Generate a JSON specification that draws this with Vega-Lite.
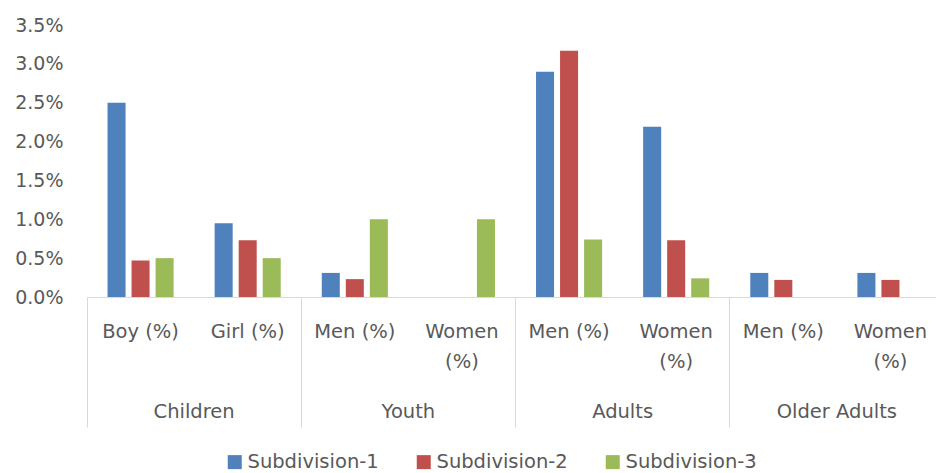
{
  "$schema": "https://vega.github.io/schema/vega-lite/v6.json",
  "width": 849,
  "height": 272,
  "autosize": {"type": "none"},
  "padding": {"left": 87, "top": 25, "right": 0, "bottom": 176},
  "config": {
    "view": {"stroke": null},
    "font": "DejaVu Sans",
    "axis": {"labelColor": "#595959", "labelFontSize": 19.5, "labelFont": "DejaVu Sans"},
    "legend": {"labelColor": "#595959", "labelFont": "DejaVu Sans"}
  },
  "data": {
    "values": [
      {"group": "Children", "item": "Children|Boy (%)", "series": "Subdivision-1", "value": 0.025},
      {"group": "Children", "item": "Children|Boy (%)", "series": "Subdivision-2", "value": 0.0047},
      {"group": "Children", "item": "Children|Boy (%)", "series": "Subdivision-3", "value": 0.005},
      {"group": "Children", "item": "Children|Girl  (%)", "series": "Subdivision-1", "value": 0.0095},
      {"group": "Children", "item": "Children|Girl  (%)", "series": "Subdivision-2", "value": 0.0073},
      {"group": "Children", "item": "Children|Girl  (%)", "series": "Subdivision-3", "value": 0.005},
      {"group": "Youth", "item": "Youth|Men  (%)", "series": "Subdivision-1", "value": 0.0031},
      {"group": "Youth", "item": "Youth|Men  (%)", "series": "Subdivision-2", "value": 0.0023},
      {"group": "Youth", "item": "Youth|Men  (%)", "series": "Subdivision-3", "value": 0.01},
      {"group": "Youth", "item": "Youth|Women (%)", "series": "Subdivision-1", "value": 0},
      {"group": "Youth", "item": "Youth|Women (%)", "series": "Subdivision-2", "value": 0},
      {"group": "Youth", "item": "Youth|Women (%)", "series": "Subdivision-3", "value": 0.01},
      {"group": "Adults", "item": "Adults|Men  (%)", "series": "Subdivision-1", "value": 0.029},
      {"group": "Adults", "item": "Adults|Men  (%)", "series": "Subdivision-2", "value": 0.0317},
      {"group": "Adults", "item": "Adults|Men  (%)", "series": "Subdivision-3", "value": 0.0074},
      {"group": "Adults", "item": "Adults|Women (%)", "series": "Subdivision-1", "value": 0.0219},
      {"group": "Adults", "item": "Adults|Women (%)", "series": "Subdivision-2", "value": 0.0073},
      {"group": "Adults", "item": "Adults|Women (%)", "series": "Subdivision-3", "value": 0.0024},
      {"group": "Older Adults", "item": "Older Adults|Men (%)", "series": "Subdivision-1", "value": 0.0031},
      {"group": "Older Adults", "item": "Older Adults|Men (%)", "series": "Subdivision-2", "value": 0.0022},
      {"group": "Older Adults", "item": "Older Adults|Men (%)", "series": "Subdivision-3", "value": 0},
      {"group": "Older Adults", "item": "Older Adults|Women (%)", "series": "Subdivision-1", "value": 0.0031},
      {"group": "Older Adults", "item": "Older Adults|Women (%)", "series": "Subdivision-2", "value": 0.0022},
      {"group": "Older Adults", "item": "Older Adults|Women (%)", "series": "Subdivision-3", "value": 0}
    ]
  },
  "layer": [
    {
      "mark": {"type": "bar"},
      "encoding": {
        "x": {
          "field": "item",
          "type": "nominal",
          "sort": null,
          "scale": {"range": [0, 857], "paddingInner": 0, "paddingOuter": 0},
          "axis": {
            "orient": "bottom",
            "title": null,
            "ticks": false,
            "domain": false,
            "labelAngle": 0,
            "labelPadding": 40,
            "labelBaseline": "alphabetic",
            "labelLineHeight": 30.5,
            "labelExpr": "split(replace(split(datum.value, '|')[1], 'Women ', 'Women|'), '|')"
          }
        },
        "xOffset": {
          "field": "series",
          "sort": null,
          "scale": {"paddingInner": 0.25, "paddingOuter": 0.854}
        },
        "y": {
          "field": "value",
          "type": "quantitative",
          "scale": {"domain": [0, 0.035]},
          "axis": {
            "title": null,
            "format": ".1%",
            "values": [0, 0.005, 0.01, 0.015, 0.02, 0.025, 0.03, 0.035],
            "ticks": false,
            "domain": false,
            "grid": false,
            "labelFontSize": 19,
            "labelPadding": 24
          }
        },
        "color": {
          "field": "series",
          "type": "nominal",
          "scale": {
            "domain": ["Subdivision-1", "Subdivision-2", "Subdivision-3"],
            "range": ["#4F81BD", "#C0504D", "#9BBB59"]
          },
          "legend": {
            "title": null,
            "orient": "none",
            "legendX": 138,
            "legendY": 427,
            "direction": "horizontal",
            "symbolType": "square",
            "symbolSize": 196,
            "symbolStrokeWidth": 0,
            "labelFontSize": 19.5,
            "labelOffset": 3,
            "columnPadding": 35
          }
        }
      }
    },
    {
      "mark": {"type": "rule", "opacity": 0},
      "encoding": {
        "x": {
          "field": "group",
          "type": "nominal",
          "sort": null,
          "scale": {"range": [0, 857], "paddingInner": 0, "paddingOuter": 0},
          "axis": {
            "orient": "bottom",
            "title": null,
            "bandPosition": 0,
            "tickSize": 130,
            "tickColor": "#D9D9D9",
            "domainColor": "#D9D9D9",
            "labelAngle": 0,
            "labelPadding": -10,
            "labelBaseline": "alphabetic"
          }
        }
      }
    }
  ],
  "resolve": {"scale": {"x": "independent"}, "axis": {"x": "independent"}}
}
